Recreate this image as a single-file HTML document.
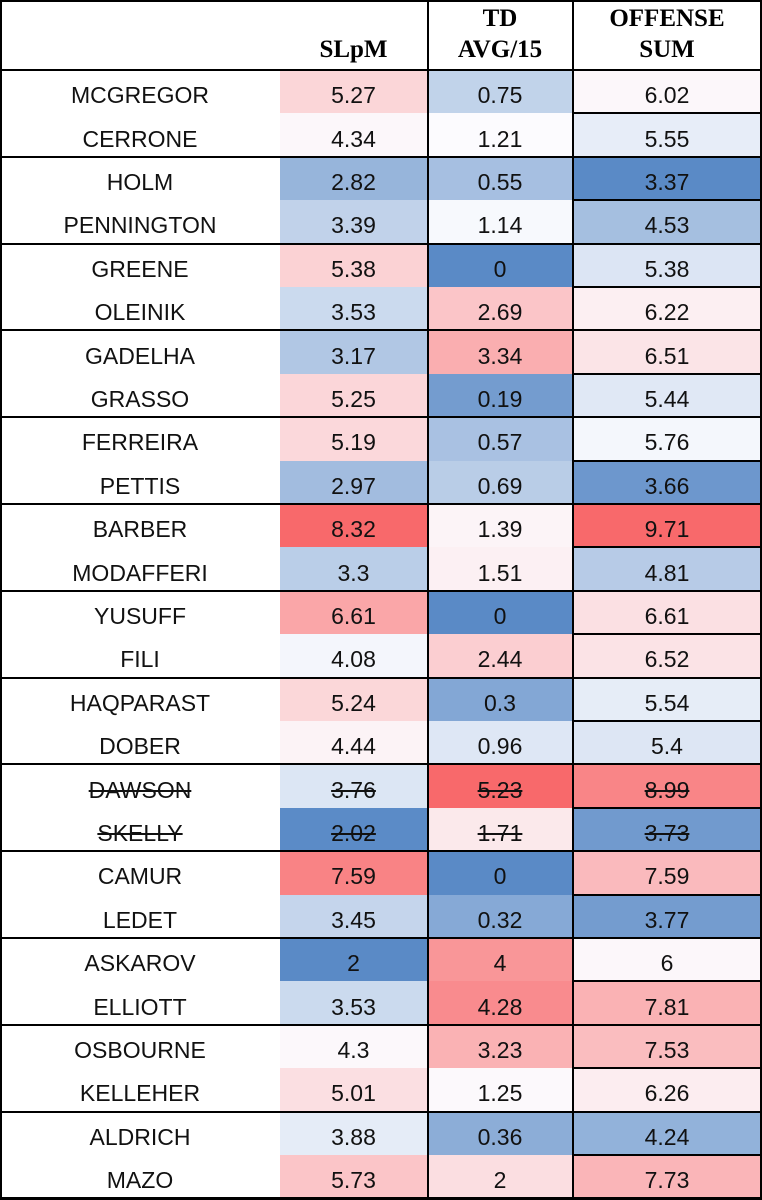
<!DOCTYPE html>
<html><head><meta charset="utf-8"><style>
html,body{margin:0;padding:0;background:#fff;}
#c{position:relative;width:762px;height:1200px;overflow:hidden;background:#fff;}
.cell{position:absolute;display:flex;align-items:center;justify-content:center;font-family:"Liberation Sans",sans-serif;font-size:23px;color:#111;box-sizing:border-box;padding-top:8px;}
.h{position:absolute;font-family:"Liberation Serif",serif;font-weight:bold;font-size:25px;text-align:center;line-height:31px;color:#000;}
.ln{position:absolute;background:#000;}
.s{text-decoration:line-through;}
</style></head><body><div id="c">
<div class="h" style="left:280px;width:147px;top:34px;">SLpM</div>
<div class="h" style="left:428px;width:144px;top:3px;">TD<br>AVG/15</div>
<div class="h" style="left:573px;width:188px;top:3px;">OFFENSE<br>SUM</div>
</div>
<script>
var d=[["MCGREGOR",5.27,0.75,6.02],["CERRONE",4.34,1.21,5.55],["HOLM",2.82,0.55,3.37],["PENNINGTON",3.39,1.14,4.53],["GREENE",5.38,0,5.38],["OLEINIK",3.53,2.69,6.22],["GADELHA",3.17,3.34,6.51],["GRASSO",5.25,0.19,5.44],["FERREIRA",5.19,0.57,5.76],["PETTIS",2.97,0.69,3.66],["BARBER",8.32,1.39,9.71],["MODAFFERI",3.3,1.51,4.81],["YUSUFF",6.61,0,6.61],["FILI",4.08,2.44,6.52],["HAQPARAST",5.24,0.3,5.54],["DOBER",4.44,0.96,5.4],["DAWSON",3.76,5.23,8.99],["SKELLY",2.02,1.71,3.73],["CAMUR",7.59,0,7.59],["LEDET",3.45,0.32,3.77],["ASKAROV",2,4,6],["ELLIOTT",3.53,4.28,7.81],["OSBOURNE",4.3,3.23,7.53],["KELLEHER",5.01,1.25,6.26],["ALDRICH",3.88,0.36,4.24],["MAZO",5.73,2,7.73]];
var c=document.getElementById('c');
var B=[90,138,198],W=[252,252,255],R=[248,105,107];
function mix(a,b,t){return 'rgb('+a.map(function(v,i){return Math.round(v+(b[i]-v)*t)}).join(',')+')';}
var cols=[{x:280,w:147},{x:428,w:144},{x:573,w:188}];
var st=[];
for(var k=1;k<4;k++){var v=d.map(function(r){return r[k]}).sort(function(a,b){return a-b});st.push([v[0],(v[12]+v[13])/2,v[25]]);}
function col(k,v){var s=st[k];if(v<=s[1])return mix(B,W,(v-s[0])/(s[1]-s[0]));return mix(W,R,(v-s[1])/(s[2]-s[1]));}
var h='';
for(var i=0;i<26;i++){
 var t=70+i*43.4, strike=(i==16||i==17)?' s':'';
 h+='<div class="cell'+strike+'" style="left:0;width:280px;top:'+t+'px;height:43.4px;"><span>'+d[i][0]+'</span></div>';
 for(var k=0;k<3;k++){
  h+='<div class="cell'+strike+'" style="left:'+cols[k].x+'px;width:'+cols[k].w+'px;top:'+t+'px;height:43.4px;background:'+col(k,d[i][k+1])+'"><span>'+d[i][k+1]+'</span></div>';
 }
 if(i%2==1) h+='<div class="ln" style="left:573px;width:189px;top:'+(t-1)+'px;height:2px"></div>';
}
for(var g=0;g<=13;g++){h+='<div class="ln" style="left:0;width:762px;top:'+(69+g*86.8)+'px;height:2px"></div>';}
h+='<div class="ln" style="left:0;width:762px;top:0;height:2px"></div>';
h+='<div class="ln" style="left:0;width:762px;top:1198px;height:2px"></div>';
h+='<div class="ln" style="left:0;width:2px;top:0;height:1200px"></div>';
h+='<div class="ln" style="left:760px;width:2px;top:0;height:1200px"></div>';
h+='<div class="ln" style="left:427px;width:2px;top:0;height:1200px"></div>';
h+='<div class="ln" style="left:572px;width:2px;top:0;height:1200px"></div>';
c.insertAdjacentHTML('beforeend',h);
</script>
</body></html>
